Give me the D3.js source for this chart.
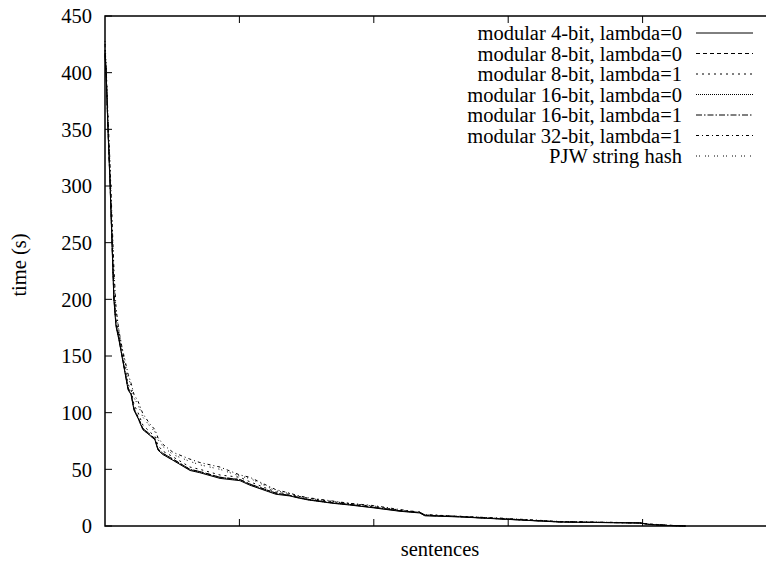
<!DOCTYPE html>
<html>
<head>
<meta charset="utf-8">
<script src="https://cdn.jsdelivr.net/npm/d3@7"></script>
<style>
  body { margin: 0; background: #fff; }
  svg text { font-family: "Liberation Serif", "Times New Roman", serif; fill: #000; }
</style>
</head>
<body>
<div id="chart"></div>
<script>
// sentence index (sorted by time), shared by every run
var sentences = [0, 4, 11, 19, 26, 33, 41, 52, 63, 86, 97, 108, 123, 141, 167, 186, 197, 216, 253, 316,
    353, 428, 502, 539, 636, 688, 714, 755, 848, 911, 1000, 1097, 1171, 1190, 1320, 1468, 1691, 1989, 2026, 2089, 2160];

var mod4_l0 = [415, 400, 350, 300, 250, 200, 176, 164, 150, 120, 116, 102, 95, 85, 80, 76, 67, 63, 58, 49,
    47, 42, 40, 36, 28, 26.5, 25, 23, 20, 18.5, 16, 13, 11.5, 9, 8, 6.2, 3.5, 2.6, 1.3, 0.5, 0];
var mod8_l0 = [418, 402, 352, 303, 252, 203, 178, 166, 151, 122, 117, 104, 96, 86, 81, 77, 68, 64, 59, 50,
    48, 43, 41, 37, 29, 27, 25.5, 23.5, 20.5, 19, 16.5, 13.5, 12, 9.5, 8.3, 6.4, 3.7, 2.7, 1.4, 0.6, 0];
var mod8_l1 = [420, 405, 356, 308, 258, 208, 182, 169, 155, 125, 120, 107, 100, 89, 83, 79, 71, 66, 61, 52,
    50, 45, 43, 39, 30, 28, 26.5, 24.5, 21.5, 19.8, 17.2, 14, 12.4, 10, 8.6, 6.7, 3.8, 2.8, 1.5, 0.6, 0];
var mod16_l0 = [416, 401, 351, 301, 251, 201, 177, 165, 150, 121, 116, 103, 95, 85, 80, 76, 67, 63, 58, 49.5,
    47.5, 42.5, 40.5, 36.5, 28.5, 26.8, 25.2, 23.2, 20.2, 18.7, 16.2, 13.2, 11.7, 9.2, 8.1, 6.3, 3.6, 2.6, 1.3, 0.5, 0];
var mod16_l1 = [417, 401, 352, 302, 252, 202, 178, 165, 151, 121, 117, 103, 96, 86, 81, 77, 68, 64, 59, 50,
    48, 43, 41, 37, 29, 27, 25.5, 23.5, 20.5, 19, 16.4, 13.4, 11.9, 9.4, 8.2, 6.3, 3.6, 2.7, 1.4, 0.5, 0];
var mod32_l1 = [425, 405, 362, 318, 272, 228, 192, 172, 158, 134, 126, 116, 110, 99, 90, 85, 78, 72, 65, 59,
    56, 52, 45, 43, 32, 29, 27, 25, 22, 20, 18, 14.5, 12, 10, 8.5, 7, 4, 2.8, 1.8, 0.8, 0];
var pjw = [428, 408, 360, 314, 268, 222, 190, 172, 157, 131, 124, 113, 107, 96, 88, 83, 76, 70, 63, 57,
    54, 50, 44, 42, 31, 28.5, 26.5, 24.5, 21.5, 19.8, 17.6, 14.2, 12, 9.8, 8.4, 6.8, 3.9, 2.8, 1.6, 0.7, 0];

var seriesNames = ["modular 4-bit, lambda=0", "modular 8-bit, lambda=0", "modular 8-bit, lambda=1",
    "modular 16-bit, lambda=0", "modular 16-bit, lambda=1", "modular 32-bit, lambda=1", "PJW string hash"];
var seriesValues = [mod4_l0, mod8_l0, mod8_l1, mod16_l0, mod16_l1, mod32_l1, pjw];
var dashes = ["none", "4,3", "2,4", "1,1", "6,2,1.5,2", "3,3,1,3", "1,2,1,5"];

var yTicks = [0, 50, 100, 150, 200, 250, 300, 350, 400, 450];
var xTicks = [500, 1000, 1500, 2000];

var width = 766, height = 567;
var margin = { left: 105, top: 16, right: -11, bottom: 41 };
var fontSize = 20.5;

var svg = d3.select("#chart").append("svg")
    .attr("width", width)
    .attr("height", height);

var x = d3.scaleLinear().domain([0, 2500]).range([margin.left, width - margin.right]);
var y = d3.scaleLinear().domain([0, 450]).range([height - margin.bottom, margin.top]);

var line = d3.line()
    .x(function (d) { return x(d[0]); })
    .y(function (d) { return y(d[1]); });

// curves
seriesValues.forEach(function (vals, i) {
    var pts = sentences.map(function (s, j) { return [s, vals[j]]; });
    svg.append("path")
        .datum(pts)
        .attr("fill", "none")
        .attr("stroke", "#000")
        .attr("stroke-width", 1)
        .attr("stroke-dasharray", dashes[i])
        .attr("d", line);
});

// ticks, gnuplot style (inward, mirrored)
var tickLen = 7;
var g = svg.append("g").attr("stroke", "#000").attr("stroke-width", 1);
yTicks.forEach(function (t) {
    g.append("line").attr("x1", x(0)).attr("x2", x(0) + tickLen).attr("y1", y(t)).attr("y2", y(t));
});
xTicks.forEach(function (t) {
    g.append("line").attr("x1", x(t)).attr("x2", x(t)).attr("y1", y(0)).attr("y2", y(0) - tickLen);
    g.append("line").attr("x1", x(t)).attr("x2", x(t)).attr("y1", y(450)).attr("y2", y(450) + tickLen);
});

svg.selectAll(".ylab").data(yTicks).enter().append("text")
    .attr("class", "ylab")
    .attr("x", x(0) - 13)
    .attr("y", function (d) { return y(d); })
    .attr("dy", "0.35em")
    .attr("text-anchor", "end")
    .attr("font-size", fontSize)
    .text(function (d) { return d; });

// border
svg.append("rect")
    .attr("x", x(0)).attr("y", y(450))
    .attr("width", x(2500) - x(0)).attr("height", y(0) - y(450))
    .attr("fill", "none").attr("stroke", "#000").attr("stroke-width", 1.5);

// axis titles
svg.append("text")
    .attr("x", 440).attr("y", 556)
    .attr("text-anchor", "middle")
    .attr("font-size", fontSize)
    .text("sentences");

svg.append("text")
    .attr("transform", "translate(26,265) rotate(-90)")
    .attr("text-anchor", "middle")
    .attr("font-size", fontSize)
    .text("time (s)");

// legend
var legend = svg.append("g");
seriesNames.forEach(function (name, i) {
    var ly = 33 + i * 20.5;
    legend.append("text")
        .attr("x", 682).attr("y", ly)
        .attr("dy", "0.35em")
        .attr("text-anchor", "end")
        .attr("font-size", fontSize)
        .text(name);
    legend.append("line")
        .attr("x1", 696).attr("x2", 753)
        .attr("y1", ly).attr("y2", ly)
        .attr("stroke", "#000")
        .attr("stroke-width", 1)
        .attr("stroke-dasharray", dashes[i]);
});
</script>
</body>
</html>
